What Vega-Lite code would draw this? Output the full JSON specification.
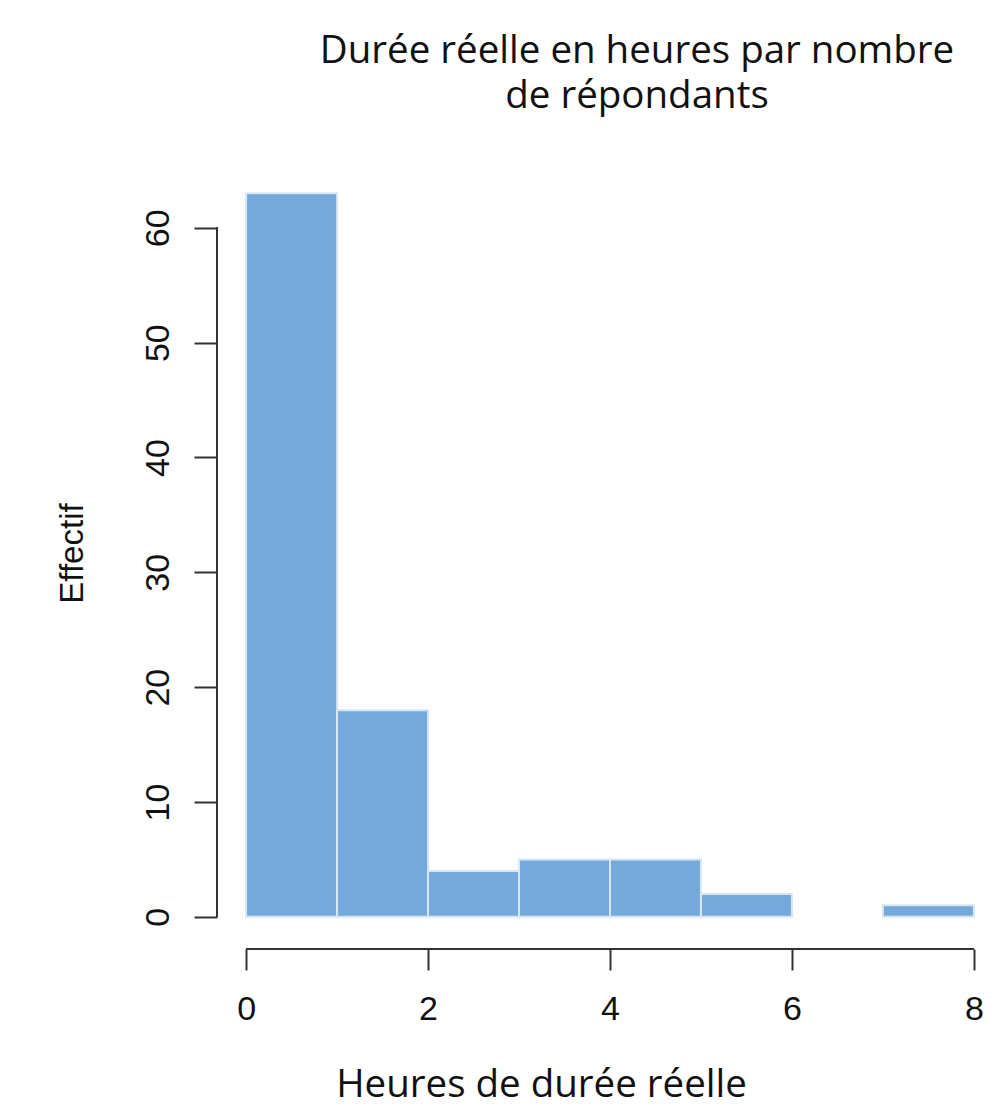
{
  "$schema": "https://vega.github.io/schema/vega-lite/v6.json",
  "width": 786,
  "height": 784,
  "autosize": {"type": "none"},
  "padding": {"left": 217, "top": 165, "right": 3, "bottom": 160},
  "background": "white",
  "config": {"view": {"stroke": null}},
  "title": {
    "text": ["Durée réelle en heures par nombre", "de répondants"],
    "font": "Open Sans",
    "fontSize": 38.5,
    "fontWeight": "normal",
    "color": "#111111",
    "anchor": "middle",
    "dx": 27,
    "baseline": "bottom",
    "lineHeight": 45,
    "offset": 11
  },
  "data": {
    "values": [
      {"start": 0, "end": 1, "count": 63},
      {"start": 1, "end": 2, "count": 18},
      {"start": 2, "end": 3, "count": 4},
      {"start": 3, "end": 4, "count": 5},
      {"start": 4, "end": 5, "count": 5},
      {"start": 5, "end": 6, "count": 2},
      {"start": 6, "end": 7, "count": 0},
      {"start": 7, "end": 8, "count": 1}
    ]
  },
  "layer": [
    {
      "transform": [{"filter": "datum.count > 0"}],
      "mark": {"type": "bar", "color": "#76a9da", "stroke": "#d6e6f5", "strokeWidth": 2},
      "encoding": {
        "x": {
          "field": "start",
          "type": "quantitative",
          "scale": {"domain": [-0.32, 8.32], "nice": false, "zero": false},
          "axis": {
            "values": [0, 2, 4, 6, 8],
            "format": "d",
            "domain": false,
            "grid": false,
            "tickSize": 21,
            "tickColor": "#333333",
            "tickWidth": 2,
            "labelFont": "Liberation Sans",
            "labelFontSize": 34,
            "labelColor": "#111111",
            "labelPadding": 22,
            "title": "Heures de durée réelle",
            "titleFont": "Open Sans",
            "titleFontSize": 38.5,
            "titleFontWeight": "normal",
            "titleColor": "#111111",
            "titleX": 324,
            "titleY": 147,
            "titleAlign": "center",
            "titleBaseline": "alphabetic"
          }
        },
        "x2": {"field": "end"},
        "y": {
          "field": "count",
          "type": "quantitative",
          "scale": {"domain": [-2.8, 65.47], "nice": false, "zero": false},
          "axis": {
            "values": [0, 10, 20, 30, 40, 50, 60],
            "domain": false,
            "grid": false,
            "tickSize": 23,
            "tickColor": "#333333",
            "tickWidth": 2,
            "labelFont": "Liberation Sans",
            "labelFontSize": 34,
            "labelColor": "#111111",
            "labelAngle": 270,
            "labelAlign": "center",
            "labelBaseline": "alphabetic",
            "labelPadding": 26,
            "title": "Effectif",
            "titleFont": "Liberation Sans",
            "titleFontSize": 33,
            "titleFontWeight": "normal",
            "titleColor": "#111111",
            "titleAngle": 270,
            "titleX": -135,
            "titleY": 388,
            "titleAlign": "center",
            "titleBaseline": "alphabetic"
          }
        },
        "y2": {"datum": 0}
      }
    },
    {
      "mark": {"type": "rule", "color": "#333333", "strokeWidth": 2},
      "encoding": {
        "x": {"datum": -0.32, "type": "quantitative"},
        "y": {"datum": 0, "type": "quantitative"},
        "y2": {"datum": 60}
      }
    },
    {
      "mark": {"type": "rule", "color": "#333333", "strokeWidth": 2},
      "encoding": {
        "y": {"datum": -2.8, "type": "quantitative"},
        "x": {"datum": 0, "type": "quantitative"},
        "x2": {"datum": 8}
      }
    }
  ]
}
